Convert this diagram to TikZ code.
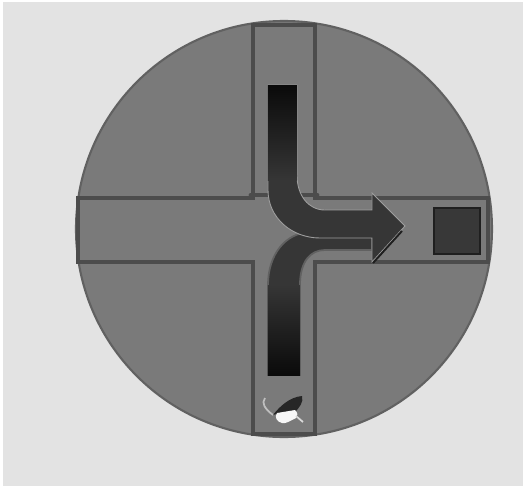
\documentclass[tikz,border=0pt]{standalone}
\usepackage{tikz}

\begin{document}
\begin{tikzpicture}[x=0.02cm, y=-0.02cm,
    road/.style={draw=black!70, line width=2pt, line cap=round},
    arrowfill/.style={fill=black!79},
    rim/.style={draw=black!38, line width=0.5pt},
    halo/.style={draw=black!62, line width=1pt}]

\useasboundingbox (0,0) rectangle (529,487);
\fill[white] (0,0) rectangle (529,487);
\fill[black!11] (3,2) rectangle (523,486);

% disc
\node[circle, minimum size=416*0.02cm, inner sep=0pt, fill=black!52, draw=black!62, line width=1.2pt] (disc) at (284,229) {};

% roads
\draw[road] (253,198) -- (253,25) -- (315,25) -- (315,198) -- (488,198) -- (488,262) -- (315,262) -- (315,434) -- (253,434) -- (253,262) -- (78,262) -- (78,198) -- cycle;
\draw[road, line width=2.8pt] (251,195) -- (270,195);
\draw[road, line width=2.8pt] (297,195) -- (317,195);

% goal square
\node[rectangle, minimum size=46*0.02cm, inner sep=0pt, fill=black!78, draw=black!88, line width=1.1pt] (goal) at (457,231) {};

% lower arrow
\path[arrowfill, halo] (268,375) -- (268,285) .. controls (268,255) and (285,233) .. (310,232) -- (372,232) -- (372,250) -- (325,250) .. controls (310,250) and (300,262) .. (300,285) -- (300,375) -- cycle;
\shade[top color=black!79, bottom color=black!96] (268,285) rectangle (300,375);

% upper arrow
\path[arrowfill, rim] (268,85) -- (268,190) .. controls (268,218) and (292,238) .. (320,238) -- (372,238) -- (372,262) -- (405,226) -- (372,193) -- (372,210) -- (325,210) .. controls (308,210) and (297,195) .. (297,175) -- (297,85) -- cycle;
\shade[top color=black!96, bottom color=black!79] (268,85) rectangle (297,180);
\draw[black!88, line width=1.1pt] (402,231) -- (373,263);

% mouse
\fill[black!85] (273,415) .. controls (280,406) and (290,397) .. (302,396) .. controls (304,402) and (299,408) .. (295,412) -- (284,412) -- cycle;
\fill[black!3] (277,413) -- (295,410) .. controls (298,413) and (298,416) .. (296,418) .. controls (290,421) and (286,424) .. (282,423) .. controls (277,422) and (274,417) .. (277,413) -- cycle;
\draw[black!25, line width=1pt] (265,398) .. controls (261,403) and (265,409) .. (273,415);
\draw[black!15, line width=1pt] (296,416) -- (303,422);

\end{tikzpicture}
\end{document}
